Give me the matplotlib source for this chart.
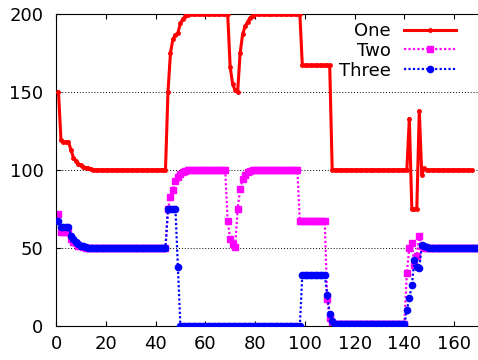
import numpy as np
import matplotlib
matplotlib.use("Agg")
import matplotlib.pyplot as plt

# -------------------------
# Data
# -------------------------

one = ([150, 119, 118, 118, 118, 113, 108, 106, 104, 103, 102, 101.5, 101, 100.5, 100.3]
       + [100] * 29
       + [150, 175, 184, 186.5, 188, 194, 197, 198.5, 199.3, 199.7]
       + [200] * 15
       + [166, 155, 151, 150, 175, 187, 192, 195, 197.5, 199]
       + [200] * 19
       + [167] * 12
       + [100] * 31
       + [133, 75, 75, 75, 138, 97, 101]
       + [100] * 19)

two = ([72, 60, 60, 60, 60, 56, 54, 53, 51.5, 51, 50.5]
       + [50] * 33
       + [75, 83, 87, 93, 95.5, 97.5, 98.7, 99.5]
       + [100] * 16
       + [67, 56, 52.5, 50.5, 75, 87.6, 94, 97, 98.5, 99.3]
       + [100] * 19
       + [67] * 11
       + [17, 5, 1.5]
       + [1] * 29
       + [34, 50, 53, 39, 45, 58, 51]
       + [50] * 23)

three = ([67, 63.5, 63.5, 63.5, 63.5, 58, 55.5, 54, 52.5, 51.5, 51, 50.5]
         + [50] * 32
         + [75, 75, 75, 75, 38]
         + [0] * 49
         + [33] * 10
         + [20, 8, 3, 1.5]
         + [1] * 28
         + [10, 18, 26, 42, 38, 37, 52, 51, 50.5]
         + [50] * 22)

x_one = np.arange(1, len(one) + 1)
x_two = np.arange(1, len(two) + 1)
x_three = np.arange(1, len(three) + 1)

xticks = [0, 20, 40, 60, 80, 100, 120, 140, 160]
yticks = [0, 50, 100, 150, 200]

# -------------------------
# Plot
# -------------------------

plt.rcParams["font.family"] = ["DejaVu Sans"]
plt.rcParams["font.size"] = 13

fig = plt.figure(figsize=(4.78, 3.6), dpi=100)
ax = fig.add_axes([56 / 478, 34 / 360, 423 / 478, 312 / 360])

for y in [50, 100, 150]:
    ax.axhline(y, color="black", lw=0.7, ls=(0, (1, 2)), zorder=1)

ax.plot(x_three, three, color="#0000ff", lw=1.6, ls=(0, (1, 1)),
        marker="o", ms=4.5, mec="#0000ff", label="Three", zorder=3)
ax.plot(x_two, two, color="#ff00ff", lw=1.6, ls=(0, (1, 1)),
        marker="s", ms=5, mec="#ff00ff", label="Two", zorder=2)
ax.plot(x_one, one, color="#ff0000", lw=2.2, ls="-",
        marker="o", ms=2.5, mec="#ff0000", label="One", zorder=4)

ax.set_xlim(0, 170)
ax.set_ylim(0, 200)
ax.set_xticks(xticks)
ax.set_yticks(yticks)
ax.tick_params(direction="in", length=3.6, top=True, right=False)
ax.tick_params(axis="y", pad=9)
ax.tick_params(axis="x", pad=6.5)
ax.spines["right"].set_visible(False)

h, l = ax.get_legend_handles_labels()
leg = ax.legend(h[::-1], l[::-1], loc="upper right", bbox_to_anchor=(456 / 478, 338 / 360),
                bbox_transform=fig.transFigure, frameon=False, markerfirst=False,
                numpoints=1, handlelength=2.9, handletextpad=0.7, labelspacing=0.1,
                borderpad=0, borderaxespad=0)

fig.savefig("out.png", dpi=100)
